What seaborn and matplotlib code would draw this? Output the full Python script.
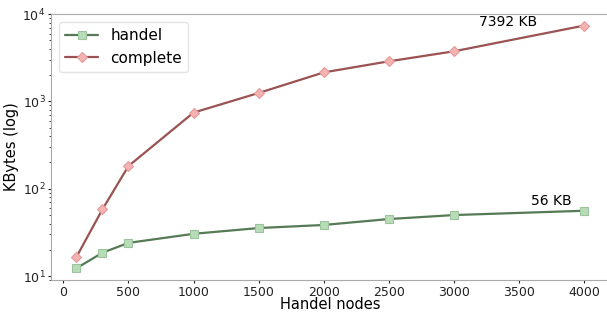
import numpy as np
import pandas as pd
import matplotlib
matplotlib.use("Agg")
import matplotlib.pyplot as plt
import seaborn as sns

nodes = [100, 300, 500, 1000, 1500, 2000, 2500, 3000, 4000]
handel_kb = [12.3, 18.5, 24, 30.5, 35.5, 38.5, 45, 50, 56]
complete_kb = [16.5, 58, 182, 745, 1250, 2150, 2880, 3750, 7392]
series = ["handel", "complete"]

df = pd.DataFrame({
    "nodes": nodes * 2,
    "kb": handel_kb + complete_kb,
    "series": ["handel"] * len(nodes) + ["complete"] * len(nodes),
})

sns.set_style("ticks")
plt.rcParams['font.family'] = ['DejaVu Sans']
plt.rcParams['text.color'] = 'black'
plt.rcParams['axes.labelcolor'] = 'black'

fig = plt.figure(figsize=(6.07, 3.14), dpi=100)
ax = fig.add_axes([0.084, 0.108, 0.92, 0.847])

line_colors = {"handel": "#557a55", "complete": "#9a5252"}
face_colors = {"handel": "#b8dcb8", "complete": "#f5b2b2"}
edge_colors = {"handel": "#9cc49c", "complete": "#e39a9a"}
markers = {"handel": "s", "complete": "D"}

for name in series:
    sub = df[df["series"] == name]
    sns.lineplot(data=sub, x="nodes", y="kb", ax=ax, color=line_colors[name],
                 marker=markers[name], markersize=6 if name == "handel" else 5.5,
                 markerfacecolor=face_colors[name], markeredgecolor=edge_colors[name],
                 markeredgewidth=0.8, linewidth=1.6, label=name)

ax.set_yscale("log")
ax.set_ylim(9, 1e4)
ax.set_xlim(-95, 4195)
ax.set_xlabel("Handel nodes", fontsize=10.5)
ax.set_ylabel("KBytes (log)", fontsize=10.5)
ax.xaxis.set_label_coords(0.5, -0.064)
ax.yaxis.set_label_coords(-0.058, 0.5)
ax.tick_params(axis="both", labelsize=9, colors="#222222", length=2.5, pad=1.5)
ax.tick_params(which="minor", length=1.5)
for s in ax.spines.values():
    s.set_color("#aaaaaa")
    s.set_visible(True)

ax.text(3420, 6700, "%d KB" % complete_kb[-1], fontsize=10, ha="center", va="bottom")
ax.text(3750, 60, "%d KB" % handel_kb[-1], fontsize=10, ha="center", va="bottom")

leg = ax.legend(loc="upper left", fontsize=11, frameon=True, handlelength=2.2)
leg.get_frame().set_edgecolor("#dddddd")

fig.savefig("out.png", dpi=100)
